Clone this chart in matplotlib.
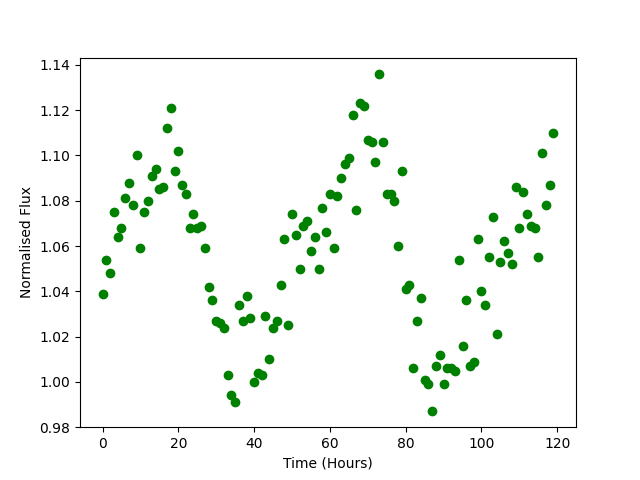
import matplotlib
matplotlib.use("Agg")
import matplotlib.pyplot as plt
import numpy as np

hours = np.arange(120)
flux = [
    1.039, 1.054, 1.048, 1.075, 1.064, 1.068, 1.081, 1.088, 1.078, 1.100,
    1.059, 1.075, 1.080, 1.091, 1.094, 1.085, 1.086, 1.112, 1.121, 1.093,
    1.102, 1.087, 1.083, 1.068, 1.074, 1.068, 1.069, 1.059, 1.042, 1.036,
    1.027, 1.026, 1.024, 1.003, 0.994, 0.991, 1.034, 1.027, 1.038, 1.028,
    1.000, 1.004, 1.003, 1.029, 1.010, 1.024, 1.027, 1.043, 1.063, 1.025,
    1.074, 1.065, 1.050, 1.069, 1.071, 1.058, 1.064, 1.050, 1.077, 1.066,
    1.083, 1.059, 1.082, 1.090, 1.096, 1.099, 1.118, 1.076, 1.123, 1.122,
    1.107, 1.106, 1.097, 1.136, 1.106, 1.083, 1.083, 1.080, 1.060, 1.093,
    1.041, 1.043, 1.006, 1.027, 1.037, 1.001, 0.999, 0.987, 1.007, 1.012,
    0.999, 1.006, 1.006, 1.005, 1.054, 1.016, 1.036, 1.007, 1.009, 1.063,
    1.040, 1.034, 1.055, 1.073, 1.021, 1.053, 1.062, 1.057, 1.052, 1.086,
    1.068, 1.084, 1.074, 1.069, 1.068, 1.055, 1.101, 1.078, 1.087, 1.110,
]

fig, ax = plt.subplots(figsize=(6.4, 4.8), dpi=100)
ax.plot(hours, flux, "go")
ax.set_ylim(0.98, 1.1432)
ax.set_xlabel("Time (Hours)")
ax.set_ylabel("Normalised Flux")

plt.savefig("out.png", dpi=100)
